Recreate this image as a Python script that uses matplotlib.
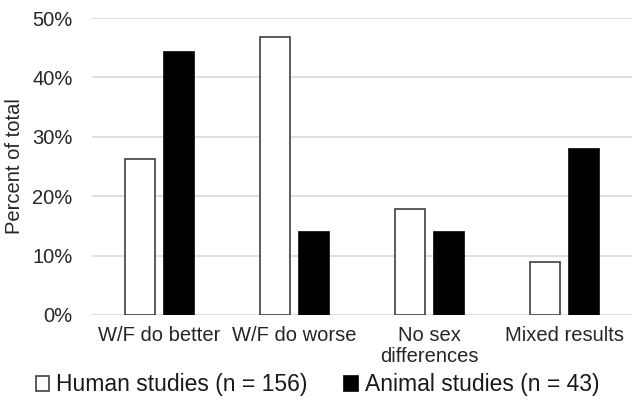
import matplotlib.pyplot as plt
import numpy as np
from matplotlib.ticker import PercentFormatter

plt.rcParams['font.family'] = ['Liberation Sans', 'DejaVu Sans']

categories = ['W/F do better', 'W/F do worse', 'No sex\ndifferences', 'Mixed results']
human = [26.3, 46.8, 17.9, 9.0]
animal = [44.2, 14.0, 14.0, 27.9]

fig = plt.figure(figsize=(6.35, 4.13), dpi=100)
ax = fig.add_axes([92 / 635, 1 - 315 / 413, 540 / 635, 297 / 413])

x = np.arange(len(categories))
w = 0.225
off = 0.145
ax.bar(x - off, human, w, color='white', edgecolor='#404040', linewidth=1.2,
       label='Human studies (n = 156)', zorder=3)
ax.bar(x + off, animal, w, color='black', edgecolor='black', linewidth=1.2,
       label='Animal studies (n = 43)', zorder=3)

ax.set_xlim(-0.5, len(categories) - 0.5)
ax.set_ylim(0, 50)
ax.set_yticks(range(0, 51, 10))
ax.yaxis.set_major_formatter(PercentFormatter(decimals=0))
ax.grid(axis='y', color='#d9d9d9', linewidth=1.2, zorder=0)
for s in ['top', 'right', 'left', 'bottom']:
    ax.spines[s].set_visible(False)
ax.tick_params(axis='x', length=0, labelsize=14.5, colors='#262626', pad=8)
ax.tick_params(axis='y', length=0, labelsize=14.5, colors='#262626', pad=14)
ax.set_xticks(x)
ax.set_xticklabels(categories, linespacing=1.15)
ax.set_ylabel('Percent of total', fontsize=14.5, labelpad=6, color='#262626')

fig.legend(loc='center', bbox_to_anchor=(0.5, 1 - 385 / 413), ncol=2, frameon=False,
           fontsize=16.5, handlelength=0.6, handleheight=0.6, handletextpad=0.3,
           columnspacing=1.6, labelcolor='#1a1a1a')

fig.savefig('out.png', dpi=100)
